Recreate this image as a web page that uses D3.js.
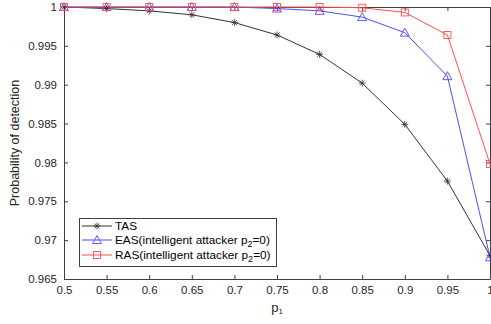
<!DOCTYPE html>
<html><head><meta charset="utf-8">
<script src="https://cdn.jsdelivr.net/npm/d3@7"></script>
<style>body{margin:0;background:#fff}svg{display:block}text{font-family:Arial,"Liberation Sans",sans-serif}</style>
</head><body>
<svg id="c" width="491" height="324"></svg>
<script>
const p1 = [0.5,0.55,0.6,0.65,0.7,0.75,0.8,0.85,0.9,0.95,1.0];
const tas = [1.0,0.9998,0.9995,0.9990,0.9980,0.9964,0.9939,0.9902,0.9849,0.9776,0.9680];
const eas = [1.0,1.0,1.0,1.0,1.0,0.9998,0.9995,0.9987,0.9967,0.9911,0.9678];
const ras = [1.0,1.0,1.0,1.0,1.0,1.0,1.0,0.9999,0.9993,0.9964,0.9798];
const xTicks = [0.5,0.55,0.6,0.65,0.7,0.75,0.8,0.85,0.9,0.95,1];
const yTicks = [0.965,0.97,0.975,0.98,0.985,0.99,0.995,1];
const seriesNames = ["TAS","EAS(intelligent attacker p","RAS(intelligent attacker p"];

const svg = d3.select("#c");
const L=64,R=490,T=7,B=279;
const x = d3.scaleLinear().domain([0.5,1]).range([L,R]);
const y = d3.scaleLinear().domain([0.965,1]).range([B,T]);
const axc="#404040";
const fmt = d => String(+d.toFixed(3));

const gx = svg.append("g").attr("transform",`translate(0,${B})`)
  .call(d3.axisBottom(x).tickValues(xTicks).tickFormat(fmt).tickSizeInner(-4).tickSizeOuter(0).tickPadding(7));
const gy = svg.append("g").attr("transform",`translate(${L},0)`)
  .call(d3.axisLeft(y).tickValues(yTicks).tickFormat(fmt).tickSizeInner(-4).tickSizeOuter(0).tickPadding(7));
const gt = svg.append("g").attr("transform",`translate(0,${T})`)
  .call(d3.axisTop(x).tickValues(xTicks).tickFormat("").tickSizeInner(-4).tickSizeOuter(0));
const gr = svg.append("g").attr("transform",`translate(${R},0)`)
  .call(d3.axisRight(y).tickValues(yTicks).tickFormat("").tickSizeInner(-4).tickSizeOuter(0));
[gx,gy,gt,gr].forEach(g=>{
  g.selectAll("path,line").attr("stroke",axc);
  g.selectAll("text").attr("fill","#262626").style("font-size","11.5px");
});

const colors=["#333333","#4d4dff","#ff4d4d"];
const data=[tas,eas,ras];
const line = d3.line().x((d,i)=>x(p1[i])).y(d=>y(d));
data.forEach((s,k)=>{
  svg.append("path").datum(s).attr("d",line).attr("fill","none").attr("stroke",colors[k]).attr("stroke-width",1);
});
function marker(g,k,cx,cy){
  if(k===0){
    const r=3.5;
    [[0,-r,0,r],[-r,0,r,0],[-r*0.7,-r*0.7,r*0.7,r*0.7],[-r*0.7,r*0.7,r*0.7,-r*0.7]].forEach(a=>
      g.append("line").attr("x1",cx+a[0]).attr("y1",cy+a[1]).attr("x2",cx+a[2]).attr("y2",cy+a[3]).attr("stroke",colors[0]).attr("stroke-width",0.8));
  } else if(k===1){
    g.append("path").attr("d",`M${cx},${cy-4.5}L${cx+4.5},${cy+3.5}L${cx-4.5},${cy+3.5}Z`).attr("fill","none").attr("stroke",colors[1]).attr("stroke-width",0.9);
  } else {
    g.append("rect").attr("x",cx-3.5).attr("y",cy-3.5).attr("width",7).attr("height",7).attr("fill","none").attr("stroke",colors[2]).attr("stroke-width",0.9);
  }
}
data.forEach((s,k)=>{
  const g=svg.append("g");
  s.forEach((v,i)=>marker(g,k,x(p1[i]),y(v)));
});

// legend
const lg=svg.append("g");
lg.append("rect").attr("x",79.5).attr("y",218.5).attr("width",197).attr("height",48).attr("fill","#fff").attr("stroke",axc).attr("stroke-width",1);
const rows=[226,240,255];
seriesNames.forEach((n,k)=>{
  lg.append("line").attr("x1",82).attr("x2",112).attr("y1",rows[k]).attr("y2",rows[k]).attr("stroke",colors[k]).attr("stroke-width",1);
  marker(lg,k,97,rows[k]);
  const t=lg.append("text").attr("x",115).attr("y",rows[k]+4).style("font-size","11.8px").attr("fill","#000").text(n);
  if(k>0){
    t.append("tspan").attr("baseline-shift","-30%").style("font-size","9px").text("2");
    t.append("tspan").text("=0)");
  }
});

// axis labels
const xl=svg.append("text").attr("x",277).attr("y",312).attr("text-anchor","middle").style("font-size","13px").attr("fill","#262626").text("p");
xl.append("tspan").attr("baseline-shift","-30%").style("font-size","8px").text("1");
svg.append("text").attr("transform",`translate(19,143) rotate(-90)`).attr("text-anchor","middle").style("font-size","12.5px").attr("fill","#262626").text("Probability of detection");
</script>
</body></html>
